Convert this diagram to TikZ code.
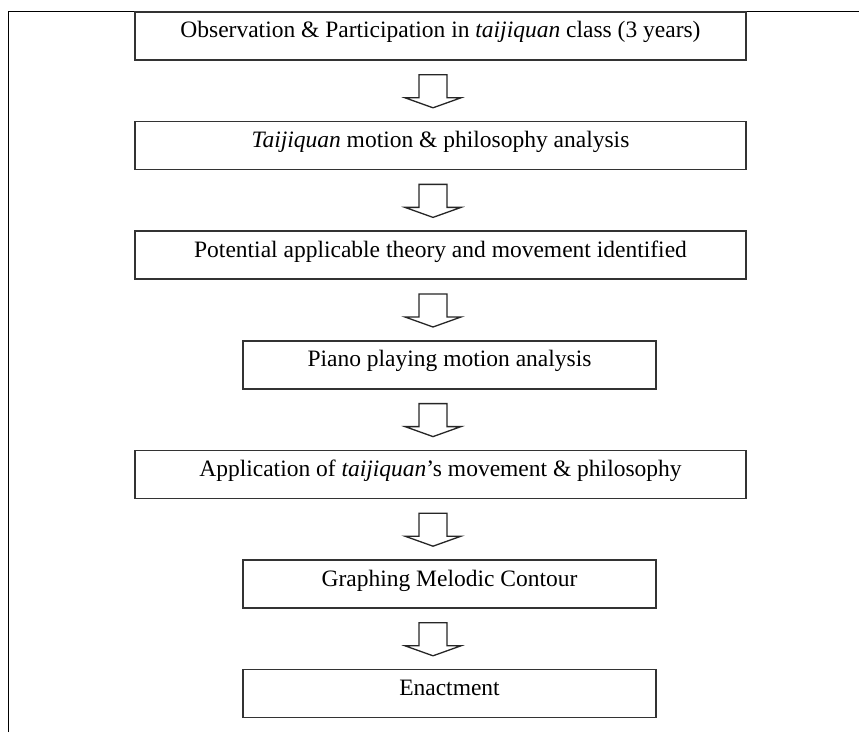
\documentclass[tikz,border=0pt]{standalone}
\usepackage{fontspec}
\setmainfont{Liberation Serif}
\usetikzlibrary{positioning}
\usetikzlibrary{calc}

\tikzset{
  stage/.style={draw=black!80, line width=1.6pt, rectangle, inner xsep=0pt, inner ysep=0pt,
    text height=26pt, text depth=22pt, font=\fontsize{23.5}{26}\selectfont},
  widestage/.style={stage, minimum width=611pt},
  narrowstage/.style={stage, minimum width=413pt},
  blockarrow/.style={draw=black!85, line width=1.3pt, fill=white, line join=miter},
}

\begin{document}
\begin{tikzpicture}[x=1pt,y=1pt]
    \useasboundingbox (0,0) rectangle (859,732);

    % the frame
    \draw[line width=1pt] (8,0) -- (8,720) -- (859,720);

    % the stages
    \node[widestage] (obs) at (440.5,696) {Observation \& Participation in \textit{taijiquan} class (3 years)};
    \node[widestage, below=60pt of obs] (motion) {\textit{Taijiquan} motion \& philosophy analysis};
    \node[widestage, below=60pt of motion] (theory) {Potential applicable theory and movement identified};
    \node[narrowstage, below=60pt of theory, xshift=9pt] (piano) {Piano playing motion analysis};
    \node[widestage, below=60pt of piano, xshift=-9pt] (apply) {Application of \textit{taijiquan}’s movement \& philosophy};
    \node[narrowstage, below=60pt of apply, xshift=9pt] (contour) {Graphing Melodic Contour};
    \node[narrowstage, below=60pt of contour] (enact) {Enactment};

    % the arrows between stages
    \coordinate (col) at (433,0);
    \foreach \a/\b in {obs/motion, motion/theory, theory/piano, piano/apply, apply/contour, contour/enact}{
        \coordinate (m) at ($(\a.south)!0.5!(\b.north)$);
        \begin{scope}[shift={(col |- m)}]
            \draw[blockarrow] (-14,16) -- (-14,-7) -- (-28,-7) -- (0,-17) -- (28,-7) -- (14,-7) -- (14,16) -- cycle;
        \end{scope}
    }
\end{tikzpicture}
\end{document}
